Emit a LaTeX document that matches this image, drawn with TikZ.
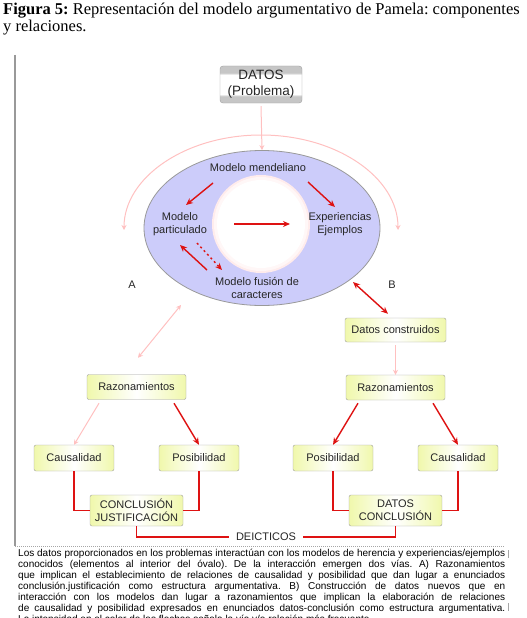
\documentclass[tikz,border=0pt]{standalone}
\usepackage{fontspec}
\setmainfont{Liberation Sans}
\newfontfamily\capfont{Liberation Serif}
\usetikzlibrary{shapes.geometric, arrows.meta, calc, positioning}
\frenchspacing
\definecolor{ovalblue}{RGB}{204,204,250}
\definecolor{boxyellow}{RGB}{240,248,172}
\definecolor{lightpink}{RGB}{255,192,192}
\definecolor{arrowred}{RGB}{222,18,18}
\pgfdeclareverticalshading{datosband}{100bp}{color(0bp)=(gray!45); color(34bp)=(gray!45); color(37bp)=(white); color(63bp)=(white); color(66bp)=(gray!45); color(100bp)=(gray!45)}
\tikzset{
	ovaltext/.style={font=\fontsize{11}{12.5}\selectfont, text=black!85, align=center, inner sep=0pt}
}
\tikzset{
	yellowbox/.style={draw=gray!75, rounded corners=2pt, left color=boxyellow, right color=boxyellow, middle color=white, font=\fontsize{11}{13}\selectfont, text=black!85, align=center, inner sep=0pt}
}
\tikzset{
	datosbox/.style={draw=gray!75, rounded corners=3pt, shading=datosband, font=\fontsize{13.5}{16}\selectfont, text=black!85, align=center, inner sep=0pt}
}
\tikzset{
	redarrow/.style={draw=arrowred, line width=1.4pt, -{Stealth[length=7pt,width=6pt]}},
	reddouble/.style={draw=arrowred, line width=1.4pt, {Stealth[length=7pt,width=6pt]}-{Stealth[length=7pt,width=6pt]}},
	redline/.style={draw=arrowred, line width=1.5pt},
	pinkarrow/.style={draw=lightpink, line width=1pt, -{Stealth[length=5pt,width=5pt]}},
	pinkdouble/.style={draw=lightpink, line width=1pt, {Stealth[length=5pt,width=5pt]}-{Stealth[length=5pt,width=5pt]}}
}

\begin{document}
\begin{tikzpicture}[x=1pt, y=-1pt]
      \useasboundingbox (0,0) rectangle (527,618);
      % caption
      \node[anchor=north west, align=left, inner sep=0pt, font=\capfont\fontsize{16.5}{17}\selectfont] (caption) at (3,3)
        {\textbf{Figura 5:} Representación del modelo argumentativo de Pamela: componentes\\y relaciones.};
      % frame
      \draw[gray!80, line width=1.2pt] (15,55) -- (15,546);
      \draw[gray!70, line width=1pt, densely dotted] (15,546) -- (505,546);
      \draw[gray!70, line width=0.8pt] (508,550) -- (508,558);
      \draw[gray!70, line width=0.8pt] (508,603) -- (508,611);

      \node[datosbox, minimum width=82pt, minimum height=37pt] (datos) at (261,84.5) {DATOS\\(Problema)};

      % oval with the models
      \node[ellipse, draw=gray!80, fill=ovalblue, line width=0.8pt, minimum width=236pt, minimum height=155pt] (oval) at (262,228) {};
      \fill[pink!30] (261,224) circle[radius=49];
      \fill[pink!12] (261,224) circle[radius=47];
      \fill[white] (261,224) circle[radius=44];
      \node[ovaltext] (mend) at (258,168) {Modelo mendeliano};
      \node[ovaltext] (part) at (180,224) {Modelo\\particulado};
      \node[ovaltext] (exper) at (340,224) {Experiencias\\Ejemplos};
      \node[ovaltext] (fusion) at (257,288) {Modelo fusión de\\caracteres};
      \node[ovaltext] (labA) at (132,285) {A};
      \node[ovaltext] (labB) at (392,285) {B};

      \draw[redarrow] ($(mend)+(-45,15)$) -- ($(part)+(6,-19)$);
      \draw[redarrow] ($(mend)+(50,14)$) -- ($(exper)+(-5,-17)$);
      \draw[redarrow] ($(part)+(54,0)$) -- ($(exper)+(-50,0)$);
      \draw[redarrow] ($(fusion)+(-50,-18)$) -- ($(part)+(0,21)$);
      \draw[redarrow, dash pattern=on 2pt off 3pt] ($(part)+(17,19)$) -- ($(fusion)+(-35,-18)$);

      % data into the oval
      \coordinate (arctop) at (261,135);
      \draw[pinkarrow] ([yshift=-3pt]datos.south) -- (oval.north);
      \draw[pinkarrow] (arctop) arc[start angle=-90, end angle=-180, x radius=137, y radius=95];
      \draw[pinkarrow] (arctop) arc[start angle=-90, end angle=0, x radius=137, y radius=95];

      \node[yellowbox, minimum width=101pt, minimum height=24pt] (constr) at (395.5,330) {Datos construidos};
      \node[yellowbox, minimum width=99pt, minimum height=25pt] (razA) at (136.5,387) {Razonamientos};
      \node[yellowbox, minimum width=99pt, minimum height=25pt] (razB) at (395.5,387.5) {Razonamientos};
      \node[yellowbox, minimum width=80pt, minimum height=26pt] (causA) at (74,458) {Causalidad};
      \node[yellowbox, minimum width=80pt, minimum height=26pt] (posA) at (199,458) {Posibilidad};
      \node[yellowbox, minimum width=80pt, minimum height=26pt] (posB) at (333,458) {Posibilidad};
      \node[yellowbox, minimum width=80pt, minimum height=26pt] (causB) at (458,458) {Causalidad};
      \node[yellowbox, minimum width=93pt, minimum height=31pt] (conclA) at (136.5,510.5) {CONCLUSIÓN\\JUSTIFICACIÓN};
      \node[yellowbox, minimum width=93pt, minimum height=31pt] (conclB) at (395.5,510.5) {DATOS\\CONCLUSIÓN};
      \node[ovaltext, inner xsep=7pt] (deic) at (266,537) {DEICTICOS};

      % way A and way B
      \draw[pinkdouble] ($(oval)+(-81,77)$) -- ($(razA.north)+(1.5,-16.5)$);
      \draw[reddouble] ($(oval)+(91,54)$) -- ($(constr.north)+(-7.5,-4)$);
      \draw[pinkarrow] ([yshift=-3pt]constr.south) -- (razB.north);
      \draw[pinkarrow] ($(razA.south)+(-37.5,3.5)$) -- (causA.north);
      \draw[redarrow] ($(razA.south)+(37.5,3.5)$) -- (posA.north);
      \draw[redarrow] ($(razB.south)+(-37.5,3)$) -- (posB.north);
      \draw[redarrow] ($(razB.south)+(37.5,3)$) -- (causB.north);

      % joins to the statements
      \draw[redline] (causA.south) |- (conclA.west);
      \draw[redline] (posA.south) |- (conclA.east);
      \draw[redline] (posB.south) |- (conclB.west);
      \draw[redline] (causB.south) |- (conclB.east);
      \draw[redline] (conclA.south) |- (deic.west);
      \draw[redline] (conclB.south) |- (deic.east);

      % note below the figure
      \node[anchor=north west, inner sep=0pt, text width=487pt, align=justify, font=\fontsize{10}{11}\selectfont] (note) at (18,549)
        {Los datos proporcionados en los problemas interactúan con los modelos de herencia y experiencias/ejemplos\linebreak
         conocidos (elementos al interior del óvalo). De la interacción emergen dos vías. A) Razonamientos\linebreak
         que implican el establecimiento de relaciones de causalidad y posibilidad que dan lugar a enunciados\linebreak
         conclusión.justificación como estructura argumentativa. B) Construcción de datos nuevos que en\linebreak
         interacción con los modelos dan lugar a razonamientos que implican la elaboración de relaciones\linebreak
         de causalidad y posibilidad expresados en enunciados datos-conclusión como estructura argumentativa.\linebreak
         La intensidad en el color de las flechas señala la vía y/o relación más frecuente.};
    \end{tikzpicture}
\end{document}
